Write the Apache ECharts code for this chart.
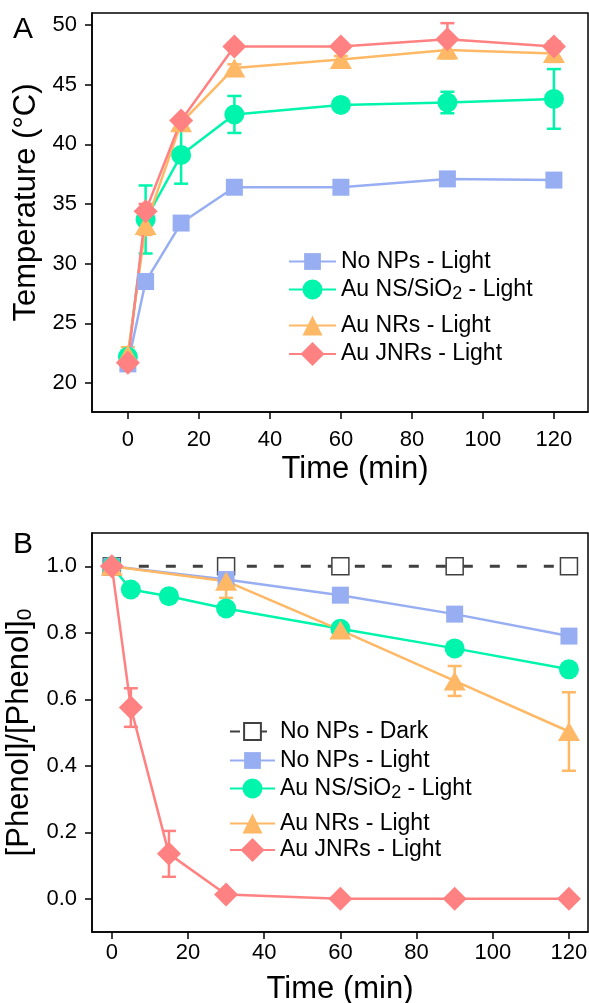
<!DOCTYPE html>
<html>
<head>
<meta charset="utf-8">
<title>Temperature and phenol conversion</title>
<script src="https://cdn.jsdelivr.net/npm/echarts@6/dist/echarts.min.js"></script>
<style>
  html, body { margin: 0; padding: 0; background: #fff; }
  #main { width: 589px; height: 1003px; }
</style>
</head>
<body>
<div id="main"></div>
<script>
var FONT = '"Liberation Sans", Arial, sans-serif';

// panel A : temperature vs time
var timeA = [0, 5, 15, 30, 60, 90, 120];
var tempNoNPs = [21.6, 28.5, 33.4, 36.4, 36.4, 37.1, 37.0];
var tempNS = [22.2, 33.7, 39.1, 42.5, 43.3, 43.5, 43.8];
var tempNSErr = [0.5, 2.85, 2.4, 1.55, 0.3, 0.9, 2.5];
var tempNR = [22.4, 33.2, 41.8, 46.4, 47.1, 47.9, 47.6];
var tempNRErr = [0.6, 0.8, 0.4, 0.3, 0.3, 0.7, 0.7];
var tempJNR = [21.7, 34.4, 42.0, 48.2, 48.2, 48.8, 48.2];
var tempJNRErr = [0.3, 0.6, 0.3, 0.3, 0.3, 1.35, 0.4];

// panel B : [Phenol]/[Phenol]0 vs time
var timeSparse = [0, 30, 60, 90, 120];
var timeDense = [0, 5, 15, 30, 60, 90, 120];
var phDark = [1, 1, 1, 1, 1];
var phDarkErr = [0, 0, 0.008, 0.008, 0.008];
var phNoNPs = [1, 0.96, 0.913, 0.856, 0.79];
var phNS = [1, 0.93, 0.91, 0.873, 0.812, 0.753, 0.69];
var phNR = [1, 0.955, 0.808, 0.655, 0.503];
var phNRErr = [0, 0.05, 0.01, 0.045, 0.118];
var phJNR = [1, 0.575, 0.135, 0.013, 0, 0, 0];
var phJNRErr = [0, 0.058, 0.069, 0.008, 0, 0, 0];

// tick labels
var tempTicks = [20, 25, 30, 35, 40, 45, 50];
var timeTicks = [0, 20, 40, 60, 80, 100, 120];
var ratioTicks = [0, 0.2, 0.4, 0.6, 0.8, 1.0];

var names = ['No NPs - Dark', 'No NPs - Light', 'Au NS/SiO2 - Light', 'Au NRs - Light', 'Au JNRs - Light'];
var colors = ['#404040', '#98AEF2', '#00F5AC', '#FFB865', '#FF8181'];

function pairs(xs, ys) {
  return xs.map(function (x, i) { return [x, ys[i]]; });
}

function lineSeries(name, xs, ys, color, symbol, size, idx) {
  return {
    name: name, type: 'line', xAxisIndex: idx, yAxisIndex: idx,
    data: pairs(xs, ys),
    symbol: symbol, symbolSize: size,
    lineStyle: { color: color, width: 2.5 },
    itemStyle: { color: color },
    emphasis: { disabled: true }
  };
}

// vertical error bars with caps
function errorSeries(xs, ys, errs, color, idx, z) {
  var rows = [];
  for (var i = 0; i < xs.length; i++) {
    if (errs[i] > 0) rows.push([xs[i], ys[i] - errs[i], ys[i] + errs[i]]);
  }
  return {
    type: 'custom', xAxisIndex: idx, yAxisIndex: idx, z: z || 2, silent: true,
    encode: { x: 0, y: [1, 2] },
    data: rows,
    renderItem: function (params, api) {
      var lo = api.coord([api.value(0), api.value(1)]);
      var hi = api.coord([api.value(0), api.value(2)]);
      var half = 7;
      var st = { stroke: color, lineWidth: 2.5 };
      return {
        type: 'group', children: [
          { type: 'line', shape: { x1: lo[0], y1: lo[1], x2: hi[0], y2: hi[1] }, style: st },
          { type: 'line', shape: { x1: lo[0] - half, y1: lo[1], x2: lo[0] + half, y2: lo[1] }, style: st },
          { type: 'line', shape: { x1: hi[0] - half, y1: hi[1], x2: hi[0] + half, y2: hi[1] }, style: st }
        ]
      };
    }
  };
}

function xAxisOf(idx, min, max, labelMargin, pad) {
  return {
    gridIndex: idx, type: 'value', min: min, max: max,
    axisLine: { show: true, onZero: false, lineStyle: { color: '#000', width: 1.5 } },
    axisTick: { show: true, length: 7, customValues: timeTicks, lineStyle: { color: '#000', width: 1.5 } },
    axisLabel: { customValues: timeTicks, fontSize: 22, color: '#000', fontFamily: FONT, margin: labelMargin },
    splitLine: { show: false },
    name: 'Time (min)', nameLocation: 'middle', nameGap: 42,
    nameTextStyle: { fontSize: 31, color: '#000', fontFamily: FONT, padding: pad }
  };
}

function yAxisOf(idx, min, max, ticks, fmt, name, rich, pad) {
  return {
    gridIndex: idx, type: 'value', min: min, max: max,
    axisLine: { show: true, onZero: false, lineStyle: { color: '#000', width: 1.5 } },
    axisTick: { show: true, length: 7, customValues: ticks, lineStyle: { color: '#000', width: 1.5 } },
    axisLabel: { customValues: ticks, fontSize: 22, color: '#000', fontFamily: FONT, margin: 15, formatter: fmt },
    splitLine: { show: false },
    name: name, nameLocation: 'middle', nameGap: 49,
    nameTextStyle: { fontSize: 31, color: '#000', fontFamily: FONT, rich: rich, padding: pad }
  };
}

function legendRow(name, left, top, h, w) {
  return {
    data: [name], left: left, top: top, orient: 'vertical', padding: 0,
    itemWidth: w, itemHeight: h, selectedMode: false,
    formatter: function (n) { return n.replace('SiO2', 'SiO{sub|2}'); },
    textStyle: {
      fontSize: 23, color: '#000', fontFamily: FONT,
      rich: { sub: { fontSize: 18, color: '#000', fontFamily: FONT, padding: [10, 0, 0, 0] } }
    }
  };
}

var series = [
  // A
  lineSeries(names[1], timeA, tempNoNPs, colors[1], 'rect', 17, 0),
  errorSeries(timeA, tempNS, tempNSErr, colors[2], 0),
  lineSeries(names[2], timeA, tempNS, colors[2], 'circle', 20, 0),
  errorSeries(timeA, tempNR, tempNRErr, colors[3], 0),
  lineSeries(names[3], timeA, tempNR, colors[3], 'triangle', [22, 19], 0),
  errorSeries(timeA, tempJNR, tempJNRErr, colors[4], 0),
  lineSeries(names[4], timeA, tempJNR, colors[4], 'diamond', 24, 0),
  // B
  {
    name: names[0], type: 'line', xAxisIndex: 1, yAxisIndex: 1,
    data: pairs(timeSparse, phDark),
    symbol: 'rect', symbolSize: 17,
    lineStyle: { color: colors[0], width: 3, type: [10, 17] },
    itemStyle: { color: '#fff', borderColor: colors[0], borderWidth: 1.5 },
    emphasis: { disabled: true }
  },
  errorSeries(timeSparse, phDark, phDarkErr, colors[0], 1, 3),
  lineSeries(names[1], timeSparse, phNoNPs, colors[1], 'rect', 17, 1),
  lineSeries(names[2], timeDense, phNS, colors[2], 'circle', 20, 1),
  errorSeries(timeSparse, phNR, phNRErr, colors[3], 1),
  lineSeries(names[3], timeSparse, phNR, colors[3], 'triangle', [22, 19], 1),
  errorSeries(timeDense, phJNR, phJNRErr, colors[4], 1),
  lineSeries(names[4], timeDense, phJNR, colors[4], 'diamond', 24, 1)
];

var myChart = echarts.init(document.getElementById('main'));
myChart.setOption({
  animation: false,
  backgroundColor: '#fff',
  textStyle: { fontFamily: FONT },
  grid: [
    { left: 92, top: 13, width: 496, height: 399, show: true, borderColor: '#000', borderWidth: 1.5, outerBoundsMode: 'none' },
    { left: 92, top: 533, width: 496, height: 399, show: true, borderColor: '#000', borderWidth: 1.5, outerBoundsMode: 'none' }
  ],
  xAxis: [
    xAxisOf(0, -10.1, 129.6, 17, [0, 0, 0, 30]),
    xAxisOf(1, -5.2, 125, 10, null)
  ],
  yAxis: [
    yAxisOf(0, 17.57, 51, tempTicks, function (v) { return String(v); }, 'Temperature (°C)', null, [0, 0, 0, 20]),
    yAxisOf(1, -0.1, 1.1, ratioTicks, function (v) { return v.toFixed(1); }, '[Phenol]/[Phenol]{sub|0}',
      { sub: { fontSize: 21, color: '#000', fontFamily: FONT, padding: [12, 0, 0, 0] } }, null)
  ],
  legend: [
    legendRow(names[1], 288, 250, 21, 47),
    legendRow(names[2], 288, 278, 25, 47),
    legendRow(names[3], 288, 314, 25, 47),
    legendRow(names[4], 288, 342, 30, 47),
    legendRow(names[0], 229, 720, 21, 45),
    legendRow(names[1], 229, 749, 21, 45),
    legendRow(names[2], 229, 777, 25, 45),
    legendRow(names[3], 229, 812, 25, 45),
    legendRow(names[4], 229, 838, 30, 45)
  ],
  graphic: [
    { type: 'text', left: 13, top: 15, style: { text: 'A', font: '30px ' + FONT, fill: '#000' } },
    { type: 'text', left: 13, top: 530, style: { text: 'B', font: '30px ' + FONT, fill: '#000' } }
  ],
  series: series
});
</script>
</body>
</html>
